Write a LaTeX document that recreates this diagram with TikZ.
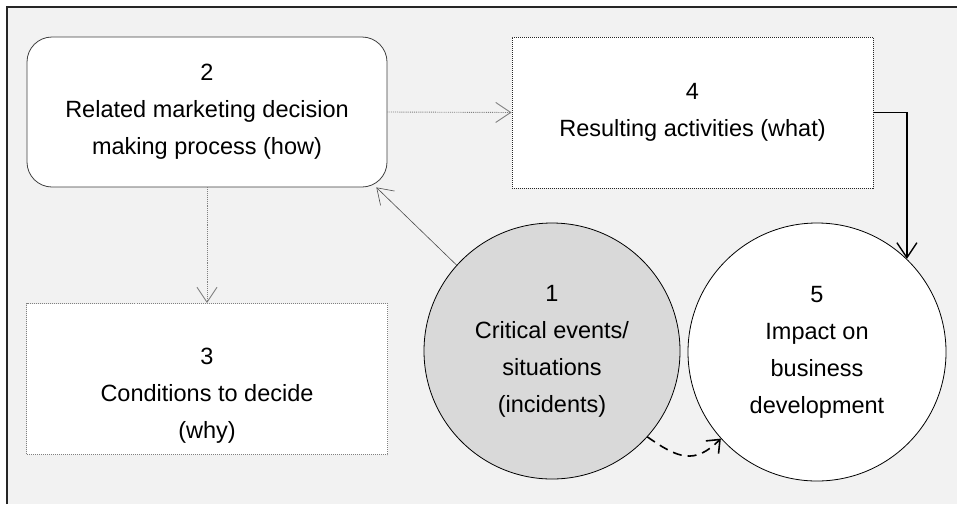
\documentclass[tikz,border=0pt]{standalone}
\usepackage{fontspec}
\setmainfont{Liberation Sans}
\usetikzlibrary{arrows.meta}

\definecolor{bgGray}{HTML}{F2F2F2}
\definecolor{evGray}{HTML}{D9D9D9}
\definecolor{lineGray}{HTML}{808080}

\begin{document}
\begin{tikzpicture}[x=1pt, y=-1pt,
  every node/.style={font=\fontsize{23.5}{37}\selectfont, align=center},
  roundbox/.style={draw=black!75, line width=0.8pt, fill=white, rounded corners=25pt,
                   minimum width=360pt, minimum height=150pt, inner sep=0pt},
  dotbox/.style={draw=black!85, densely dotted, line width=1pt, fill=white,
                 minimum width=361pt, minimum height=151pt, inner sep=0pt},
  ball/.style={draw, circle, line width=0.8pt, inner sep=0pt},
  barb/.style={-{Straight Barb[length=15pt,width=20pt]}},
  dotarrow/.style={barb, draw=lineGray, densely dotted, line width=0.9pt}]

  \useasboundingbox (0,0) rectangle (957,504);
  \fill[bgGray] (7,7) rectangle (957,504);
  \draw[line width=1.5pt, black!85] (7,504) -- (7,7) -- (957,7);

  \node[roundbox] (dec) at (207,112) {2\\Related marketing decision\\making process (how)};
  \node[dotbox] (act) at (692.5,112.5) {4\\Resulting activities (what)};
  \node[dotbox, draw=lineGray] (cond) at (207,379) {};
  \node (condtxt) at (207,396) {3\\Conditions to decide\\(why)};
  \node[ball, fill=evGray, minimum size=256pt] (ev) at (552,351) {1\\Critical events/\\situations\\(incidents)};
  \node[ball, fill=white, minimum size=258pt] (imp) at (817,352) {5\\Impact on\\business\\development};

  \draw[dotarrow] (dec.east) -- (act.west);
  \draw[dotarrow] (dec.south) -- (cond.north);
  \draw[barb, draw=black!70, line width=0.6pt] (ev.138) -- (dec.-24);
  \draw[barb, line width=1.4pt] (act.east) -| (imp.46);
  \draw[-{Straight Barb[length=11pt,width=18pt]}, dash pattern=on 9pt off 6pt, line width=1.6pt]
    (ev.-42) to[out=-35, in=-135, looseness=1.3] (imp.222);
\end{tikzpicture}
\end{document}
